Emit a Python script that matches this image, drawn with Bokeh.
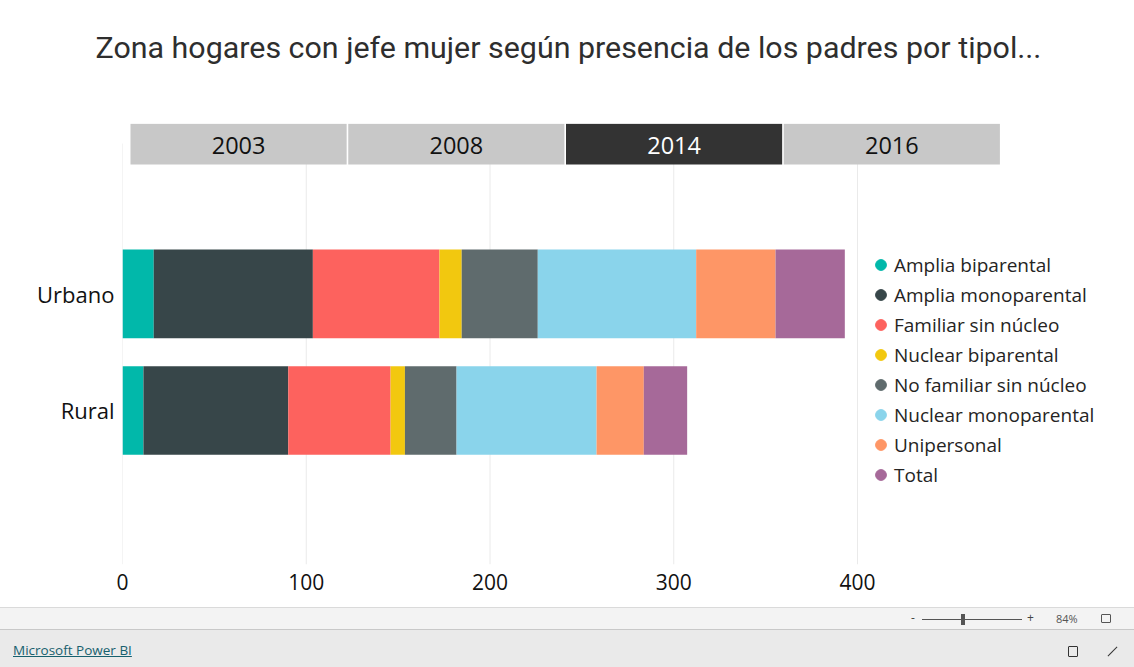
from bokeh.plotting import figure
from bokeh.layouts import column
from bokeh.models import Range1d, FixedTicker, Legend, LegendItem, ColumnDataSource, Title, Div
from bokeh.core.properties import value
from bokeh.embed import file_html
from bokeh.resources import INLINE

# ---------------- data ----------------
titulo = "Zona hogares con jefe mujer según presencia de los padres por tipol..."
zonas = ["Urbano", "Rural"]
tipologias = ["Amplia biparental", "Amplia monoparental", "Familiar sin núcleo",
              "Nuclear biparental", "No familiar sin núcleo", "Nuclear monoparental",
              "Unipersonal", "Total"]
urbano = [17.0, 86.6, 68.9, 12.1, 41.4, 86.2, 43.2, 37.7]
rural = [11.4, 78.8, 55.7, 7.8, 28.1, 76.2, 25.7, 23.6]
colores = ["#01B8AA", "#374649", "#FD625E", "#F2C80F", "#5F6B6D", "#8AD4EB", "#FE9666", "#A66999"]
anios = ["2003", "2008", "2014", "2016"]
anio_sel = "2014"
x_ticks = [0, 100, 200, 300, 400]

FONT = "Open Sans"
TXT = "#252423"
W, H_MAIN, H_FOOT = 1134, 607, 60

# frame geometry (page pixels)
FL, FR, FT, FB = 122, 1126, 123, 564
X_SCALE = 1.8375          # px per unit on x
Y_SCALE = 116.6           # px per category step
Y_TOP = 3.461             # data value at frame top


def dx(px):
    return (px - FL) / X_SCALE


def dy(py):
    return Y_TOP - (py - FT) / Y_SCALE


# ---------------- main chart ----------------
ypos = [len(zonas) - i for i in range(len(zonas))]
data = {"y": ypos}
for i, t in enumerate(tipologias):
    data[t] = [urbano[i], rural[i]]
src = ColumnDataSource(data)

p = figure(width=W, height=H_MAIN,
           x_range=Range1d(0, (FR - FL) / X_SCALE),
           y_range=Range1d(dy(FB), Y_TOP),
           min_border_left=FL, min_border_right=W - FR, min_border_top=FT,
           min_border_bottom=H_MAIN - FB,
           output_backend="svg", toolbar_location=None, title=None)
p.outline_line_color = None
p.grid.visible = False

# spacer between frame and title, then the title itself
p.add_layout(Title(text=" ", text_font_size="10px", standoff=41), "above")
p.add_layout(Title(text=titulo, align="left", offset=-27, standoff=10,
                   text_font="Roboto", text_font_size="30.4px", text_font_style="normal",
                   text_color="#2E2E2E"), "above")

# vertical grid lines at the tick values
p.segment(x0=x_ticks, y0=dy(FB), x1=x_ticks, y1=dy(143), line_color="#EAEAEA", line_width=1)

p.hbar_stack(tipologias, y="y", height=0.76, color=colores, line_color=None, source=src)

# year slicer (tabs)
slot = 217.75
tab_l = [dx(130 + i * slot) for i in range(len(anios))]
tab_r = [dx(130 + i * slot + slot - 1.6) for i in range(len(anios))]
tab_fill = ["#333333" if a == anio_sel else "#C8C8C8" for a in anios]
tab_txt = ["#FFFFFF" if a == anio_sel else "#111111" for a in anios]
tsrc = ColumnDataSource(dict(l=tab_l, r=tab_r, c=[(a + b) / 2 for a, b in zip(tab_l, tab_r)],
                             fill=tab_fill, tc=tab_txt, lab=anios))
p.quad(left="l", right="r", top=dy(123.3), bottom=dy(164), fill_color="fill",
       line_color=None, source=tsrc)
p.text(x="c", y=dy(145), text="lab", text_color="tc", text_font=value(FONT),
       text_font_size="23.5px", text_align="center", text_baseline="middle", source=tsrc)

p.xaxis.ticker = FixedTicker(ticks=x_ticks)
p.xaxis.axis_line_color = None
p.xaxis.major_tick_line_color = None
p.xaxis.minor_tick_line_color = None
p.xaxis.major_tick_out = 0
p.xaxis.major_label_standoff = 9
p.xaxis.major_label_text_font = FONT
p.xaxis.major_label_text_font_size = "21px"
p.xaxis.major_label_text_color = "#111111"

p.yaxis.ticker = FixedTicker(ticks=ypos)
p.yaxis.major_label_overrides = {yv: z for yv, z in zip(ypos, zonas)}
p.yaxis.axis_line_color = None
p.yaxis.major_tick_line_color = None
p.yaxis.minor_tick_line_color = None
p.yaxis.major_tick_out = 0
p.yaxis.major_label_standoff = 8
p.yaxis.major_label_text_font = FONT
p.yaxis.major_label_text_font_size = "22px"
p.yaxis.major_label_text_color = "#111111"

nan = float("nan")
items = []
for t, c in zip(tipologias, colores):
    r = p.scatter(x=[nan], y=[nan], marker="circle", size=10, fill_color=c, line_color=c)
    items.append(LegendItem(label=t, renderers=[r]))
leg = Legend(items=items, location=(745, 76), glyph_width=27, glyph_height=27,
             label_standoff=-3, spacing=3, padding=0, margin=0,
             border_line_color=None, background_fill_alpha=0,
             label_text_font=FONT, label_text_font_size="19px", label_text_color=TXT)
p.add_layout(leg)

# ---------------- footer (Power BI bar) ----------------
footer_html = """
<div style="position:relative;width:1134px;height:60px;font-family:'Open Sans',sans-serif;overflow:hidden;">
  <div style="position:absolute;left:0;top:0;width:1134px;height:23px;background:#F3F3F3;border-top:1px solid #DADADA;border-bottom:1px solid #C8C8C8;box-sizing:border-box;"></div>
  <div style="position:absolute;left:0;top:23px;width:1134px;height:37px;background:#EAEAEA;"></div>
  <div style="position:absolute;left:13px;top:35px;font-size:13.5px;line-height:16px;color:#17606E;text-decoration:underline;">Microsoft Power BI</div>
  <div style="position:absolute;left:911px;top:3px;font-size:12px;line-height:16px;color:#444;">-</div>
  <div style="position:absolute;left:922px;top:12px;width:100px;height:1px;background:#555;"></div>
  <div style="position:absolute;left:961px;top:7px;width:4px;height:11px;background:#555;"></div>
  <div style="position:absolute;left:1027px;top:3px;font-size:12px;line-height:16px;color:#444;">+</div>
  <div style="position:absolute;left:1056px;top:4px;font-size:11px;line-height:16px;color:#555;">84%</div>
  <div style="position:absolute;left:1101px;top:7px;width:10px;height:9px;border:1px solid #555;box-sizing:border-box;border-radius:1px;"></div>
  <div style="position:absolute;left:1068px;top:39px;width:10px;height:11px;border:1px solid #333;box-sizing:border-box;border-radius:1px;"></div>
  <div style="position:absolute;left:1106px;top:44px;width:13px;height:1px;background:#333;transform:rotate(-45deg);"></div>
</div>
"""
footer = Div(text=footer_html, width=W, height=H_FOOT, margin=0)

layout = column(p, footer, spacing=0)
open("out.html", "w").write(file_html(layout, INLINE))
